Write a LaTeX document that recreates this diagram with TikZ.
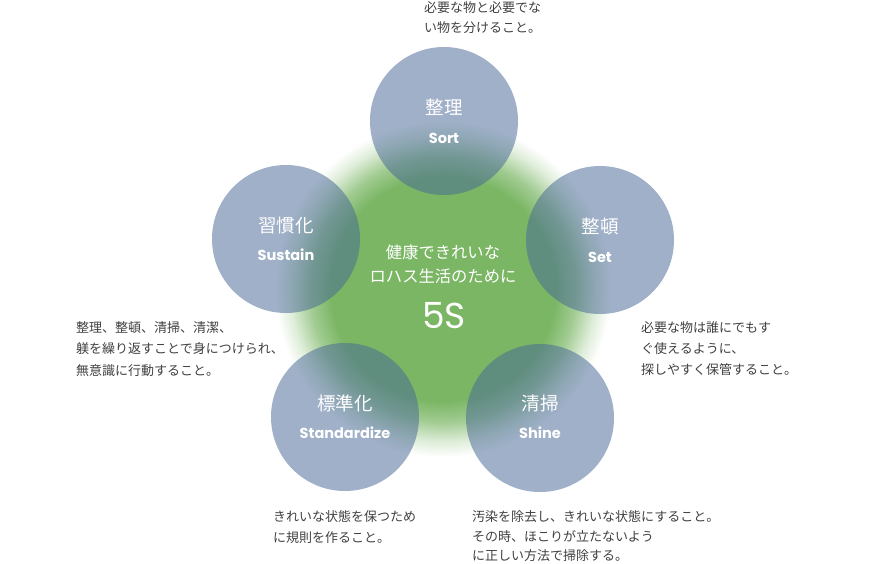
\documentclass[tikz,border=0pt]{standalone}
\usepackage{fontspec}
\setmainfont{Noto Sans CJK JP}
\newfontfamily\engfont{Poppins}
\definecolor{glowgreen}{RGB}{122,182,100}
\definecolor{circblue}{RGB}{72,104,150}
\definecolor{desctext}{RGB}{64,64,64}
\pgfdeclareradialshading{greenglow}{\pgfpoint{0bp}{0bp}}{%
  color(0bp)=(glowgreen); color(16bp)=(glowgreen); color(19bp)=(glowgreen!70!white);
  color(21.8bp)=(glowgreen!25!white); color(24bp)=(white); color(50bp)=(white)}
\tikzset{
  pillar/.style={circle, minimum size=148pt, inner sep=0pt, fill=circblue, fill opacity=0.52, draw=none},
  jtitle/.style={text=white, font=\fontsize{18.5}{22}\selectfont, inner sep=0pt},
  etitle/.style={text=white, font=\engfont\bfseries\fontsize{14.5}{17}\selectfont, inner sep=0pt},
  desc/.style={text=desctext, font=\fontsize{13}{20.8}\selectfont, align=left, inner sep=0pt, anchor=north west},
  centertext/.style={text=white, font=\fontsize{16.3}{24}\selectfont, align=center, inner sep=0pt}
}
\begin{document}
\begin{tikzpicture}[x=1pt,y=-1pt]
\useasboundingbox (0,0) rectangle (879,563);
% glow
\coordinate (hub) at (443,289);
\shade[shading=greenglow] (443-175,289-175) rectangle (443+175,289+175);
% circles
\node[pillar] (sort) at (444,121) {};
\node[pillar] (set) at (600,240) {};
\node[pillar] (shine) at (540,418) {};
\node[pillar] (std) at (345,417) {};
\node[pillar] (sus) at (286,239) {};
% circle labels
\node[jtitle] (sortj) at (444,107) {整理};
\node[etitle] (sorte) at (444,138) {Sort};
\node[jtitle] (setj) at (600,226) {整頓};
\node[etitle] (sete) at (600,257) {Set};
\node[jtitle] (shinej) at (540,403) {清掃};
\node[etitle] (shinee) at (540,433) {Shine};
\node[jtitle] (stdj) at (345,403) {標準化};
\node[etitle] (stde) at (345,433) {Standardize};
\node[jtitle] (susj) at (286,225) {習慣化};
\node[etitle] (suse) at (286,255) {Sustain};
% center
\node[centertext] (ctext) at (443,264) {健康できれいな\\ロハス生活のために};
\node[text=white, font=\engfont\fontsize{36}{40}\selectfont, inner sep=0pt] (fives) at (444,316) {5S};
% descriptions
\node[desc] (dsort) at (424,1) {必要な物と必要でな\\い物を分けること。};
\node[desc] (dset) at (641,321.5) {必要な物は誰にでもす\\ぐ使えるように、\\探しやすく保管すること。};
\node[desc, font=\fontsize{13}{19.5}\selectfont] (dshine) at (472,510.5) {汚染を除去し、きれいな状態にすること。\\その時、ほこりが立たないよう\\に正しい方法で掃除する。};
\node[desc] (dstd) at (273,510.5) {きれいな状態を保つため\\に規則を作ること。};
\node[desc, font=\fontsize{13}{21.3}\selectfont] (dsus) at (76,321.5) {整理、整頓、清掃、清潔、\\躾を繰り返すことで身につけられ、\\無意識に行動すること。};
\end{tikzpicture}
\end{document}
